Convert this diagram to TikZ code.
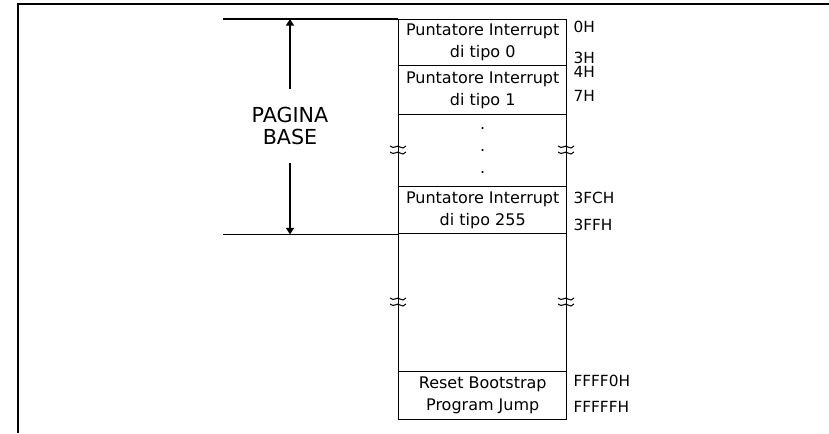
\documentclass[tikz,border=0pt]{standalone}
\usepackage{fontspec}
\setmainfont{DejaVu Sans}
\usetikzlibrary{positioning,arrows.meta}
\tikzset{every picture/.style={line width=0.75pt}}
\tikzset{rottura/.pic={
  \draw [line width=0.8pt] (-8,-2) .. controls (-4,-6) and (-1,0) .. (2,-3) .. controls (4,-5) and (6,-4) .. (8,-2);
  \draw [line width=0.8pt] (-8,4) .. controls (-4,0) and (-1,6) .. (2,3) .. controls (4,1) and (6,2) .. (8,4);
}}

\begin{document}
\begin{tikzpicture}[x=0.75pt,y=0.75pt,yscale=-1,xscale=1,
  cella/.style={draw,line width=1.1pt,anchor=north west,minimum width=126pt,inner sep=0pt,align=center,font=\fontsize{12}{16.5}\selectfont},
  indir/.style={anchor=west,inner sep=0.75pt,font=\fontsize{11.5}{13}\selectfont}]
\useasboundingbox (0,0) rectangle (829,433);

%cornice
\draw [line width=1.5pt] (18,433) -- (18,4) -- (829,4);

% celle della memoria
\node [cella,minimum height=34.5pt] (tipo0) at (398,19) {Puntatore Interrupt\\di tipo 0};
\node [cella,minimum height=36.75pt] (tipo1) at (398,65) {Puntatore Interrupt\\di tipo 1};
\node [cella,minimum height=54pt] (puntini) at (398,114) {.\\.\\.};
\node [cella,minimum height=35.25pt] (tipo255) at (398,186) {Puntatore Interrupt\\di tipo 255};
\node [cella,minimum height=103.5pt] (vuoto) at (398,233) {};
\node [cella,minimum height=36pt] (reset) at (398,371) {Reset Bootstrap\\Program Jump};

% indirizzi
\node [indir] (a0) at (572,27) {0H};
\node [indir] (a3) at (572,58) {3H};
\node [indir] (a4) at (572,72) {4H};
\node [indir] (a7) at (572,96) {7H};
\node [indir] (a3fc) at (572,198) {3FCH};
\node [indir] (a3ff) at (572,225) {3FFH};
\node [indir] (aff0) at (572,381) {FFFF0H};
\node [indir] (afff) at (572,407) {FFFFFH};

% pagina base
\node [align=center,inner xsep=2pt,inner ysep=13pt,font=\fontsize{15.5}{16.5}\selectfont] (pagina) at (290,126) {PAGINA\\BASE};
\coordinate (sx1) at (tipo0.north west -| 223,0);
\coordinate (sx2) at (tipo255.south west -| 223,0);
\coordinate (cima) at (pagina |- tipo0.north);
\coordinate (fondo) at (pagina |- tipo255.south);
\draw [line width=1.1pt] (sx1) -- (tipo0.north west);
\draw [line width=1.1pt] (sx2) -- (tipo255.south west);
\draw [line width=1.1pt,-{Triangle[width=6pt,length=5pt]}] (pagina.north) -- (cima);
\draw [line width=1.1pt,-{Triangle[width=6pt,length=5pt]}] (pagina.south) -- (fondo);

% interruzioni
\pic at (398,150) {rottura};
\pic at (566,150) {rottura};
\pic at (398,302) {rottura};
\pic at (566,302) {rottura};

\end{tikzpicture}
\end{document}
